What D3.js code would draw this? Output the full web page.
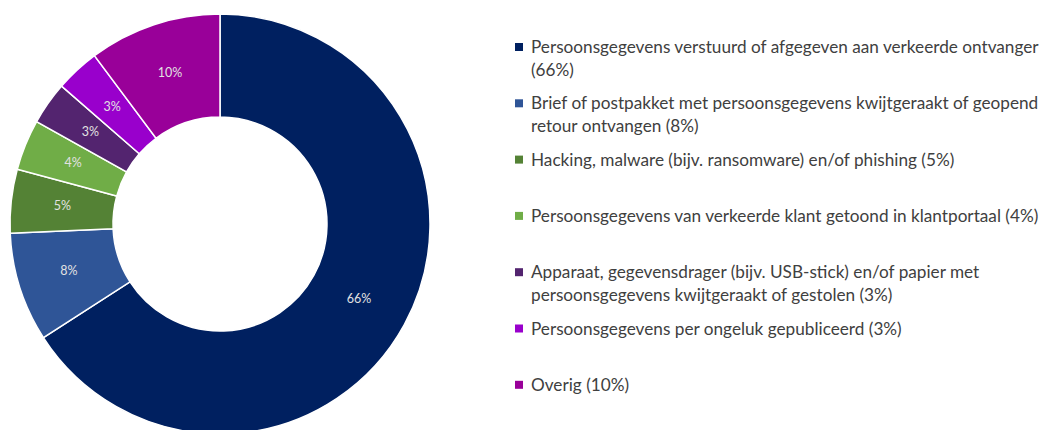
<!DOCTYPE html>
<html lang="nl">
<head>
<meta charset="UTF-8">
<title>Datalekken per soort</title>
<script src="https://d3js.org/d3.v7.min.js"></script>
<style>
    body {
        margin: 0;
        background: #fff;
        font-family: Lato, "Open Sans", sans-serif;
    }
    .sliceLabel {
        font-size: 12.5px;
        fill: #e2e2e2;
        text-anchor: middle;
        dominant-baseline: middle;
    }
    .legendText {
        font-size: 17.2px;
        fill: #404040;
    }
</style>
</head>
<body>
<script>
    const width = 1050;
    const height = 430;

    // categories, two-line legend entries split with \n
    const categories = [
        "Persoonsgegevens verstuurd of afgegeven aan verkeerde ontvanger\n(66%)",
        "Brief of postpakket met persoonsgegevens kwijtgeraakt of geopend\nretour ontvangen (8%)",
        "Hacking, malware (bijv. ransomware) en/of phishing (5%)",
        "Persoonsgegevens van verkeerde klant getoond in klantportaal (4%)",
        "Apparaat, gegevensdrager (bijv. USB-stick) en/of papier met\npersoonsgegevens kwijtgeraakt of gestolen (3%)",
        "Persoonsgegevens per ongeluk gepubliceerd (3%)",
        "Overig (10%)"
    ];
    // share in percent
    const values = [65.9, 8.4, 4.9, 3.9, 3.3, 3.4, 10.2];
    const colors = ["#002060", "#2f5597", "#548235", "#70ad47", "#53246f", "#9900cc", "#990099"];

    const svg = d3.select("body").append("svg")
        .attr("width", width)
        .attr("height", height);

    const cx = 220, cy = 224;
    const outerR = 210, innerR = 107;

    const data = categories.map((c, i) => ({ name: c, value: values[i], color: colors[i] }));

    const pie = d3.pie().sort(null).value(d => d.value);
    const arc = d3.arc().innerRadius(innerR).outerRadius(outerR);

    const g = svg.append("g").attr("transform", `translate(${cx},${cy})`);

    const arcs = pie(data);

    g.selectAll("path")
        .data(arcs)
        .join("path")
        .attr("d", arc)
        .attr("fill", d => d.data.color)
        .attr("stroke", "#fff")
        .attr("stroke-width", 1.5);

    g.selectAll("text")
        .data(arcs)
        .join("text")
        .attr("class", "sliceLabel")
        .attr("transform", d => `translate(${arc.centroid(d)})`)
        .text(d => Math.round(d.data.value) + "%");

    // legend
    const legendX = 515, legendY0 = 47, legendStep = 56.3, lineH = 23;

    const legend = svg.append("g");
    data.forEach((d, i) => {
        const y = legendY0 + i * legendStep;
        legend.append("rect")
            .attr("x", legendX)
            .attr("y", y - 4)
            .attr("width", 8)
            .attr("height", 8)
            .attr("fill", d.color);
        d.name.split("\n").forEach((line, j) => {
            legend.append("text")
                .attr("class", "legendText")
                .attr("x", legendX + 16)
                .attr("y", y + j * lineH)
                .attr("dy", "0.35em")
                .text(line);
        });
    });
</script>
</body>
</html>
